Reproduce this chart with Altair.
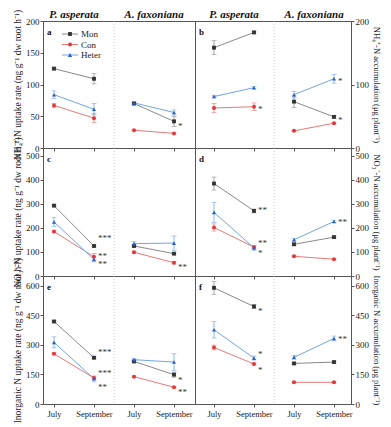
import altair as alt
import pandas as pd

series = ["Mon", "Con", "Heter"]
species = ["P. asperata", "A. faxoniana"]
x_labels = ["July", "September", "July", "September"]
x_pos = [0, 1, 2, 3]

# values per series: [P. asperata July, P. asperata September, A. faxoniana July, A. faxoniana September]
a_mean = {"Mon": [125, 109, 70, 42], "Con": [67, 47, 28, 23], "Heter": [84, 61, 71, 56]}
a_err = {"Mon": [2, 8, 2, 8], "Con": [3, 7, 1, 1], "Heter": [6, 9, 2, 4]}
b_mean = {"Mon": [158, 182, 73, 49], "Con": [63, 65, 27, 39], "Heter": [81, 95, 84, 109]}
b_err = {"Mon": [11, 2, 9, 2], "Con": [7, 6, 1, 1], "Heter": [2, 2, 5, 7]}
c_mean = {"Mon": [293, 125, 125, 93], "Con": [185, 80, 99, 55], "Heter": [225, 69, 135, 137]}
c_err = {"Mon": [4, 4, 4, 4], "Con": [5, 14, 4, 5], "Heter": [18, 10, 8, 30]}
d_mean = {"Mon": [385, 271, 132, 162], "Con": [202, 120, 82, 70], "Heter": [265, 117, 151, 227]}
d_err = {"Mon": [27, 8, 5, 4], "Con": [15, 5, 3, 3], "Heter": [42, 10, 6, 5]}
e_mean = {"Mon": [419, 235, 216, 149], "Con": [255, 132, 139, 85], "Heter": [313, 128, 225, 213]}
e_err = {"Mon": [5, 6, 5, 13], "Con": [5, 6, 4, 4], "Heter": [28, 15, 6, 42]}
f_mean = {"Mon": [590, 495, 206, 213], "Con": [287, 203, 110, 110], "Heter": [377, 233, 237, 333]}
f_err = {"Mon": [33, 10, 5, 5], "Con": [12, 5, 4, 4], "Heter": [42, 10, 10, 12]}

# significance marks: (position, value, label)
a_stars = [(3, 40, "*")]
b_stars = [(1, 66, "*"), (3, 110, "*"), (3, 49, "*")]
c_stars = [(1, 172, "***"), (1, 96, "**"), (1, 62, "**"), (3, 48, "**")]
d_stars = [(1, 288, "**"), (1, 151, "**"), (1, 110, "*"), (3, 236, "**")]
e_stars = [(1, 281, "***"), (1, 172, "***"), (1, 101, "**"), (3, 139, "*"), (3, 76, "**")]
f_stars = [(1, 490, "*"), (1, 270, "*"), (1, 186, "*"), (3, 346, "**")]

y_titles_left = [
    "NH\u2084\u207a-N uptake rate (ng g\u207b\u00b9 dw root h\u207b\u00b9)",
    "NO\u2083\u207b-N uptake rate (ng g\u207b\u00b9 dw root h\u207b\u00b9)",
    "Inorganic N uptake rate (ng g\u207b\u00b9 dw root h\u207b\u00b9)",
]
y_titles_right = [
    "NH\u2084\u207a-N accumulation (\u03bcg plant\u207b\u00b9)",
    "NO\u2083\u207b-N accumulation (\u03bcg plant\u207b\u00b9)",
    "Inorganic N accumulation (\u03bcg plant\u207b\u00b9)",
]
left_ticks = [[0, 50, 100, 150, 200], [0, 100, 200, 300, 400, 500], [0, 150, 300, 450, 600]]
right_ticks = [[0, 100, 200], [0, 100, 200, 300, 400, 500], [0, 150, 300, 450, 600]]
y_max = [200, 533, 650]

line_colors = ["#8a8a8a", "#e77a7a", "#72a7df"]
point_colors = ["#333333", "#e03a3c", "#2b62c8"]
shapes = ["square", "circle", "triangle-up"]
FONT = "Liberation Serif"
row_heights = [127, 128, 128]
label_expr = "[" + ",".join(f"'{l}'" for l in x_labels) + "][datum.value]"


def make_df(mean, err):
    rows = []
    for s in series:
        for i, p in enumerate(x_pos):
            m, e = mean[s][i], err[s][i]
            rows.append(dict(series=s, pos=p, grp=f"{s}-{p // 2}", mean=m, lo=m - e, hi=m + e))
    return pd.DataFrame(rows)


def panel(letter, mean, err, stars, row, side):
    df = make_df(mean, err)
    xdom = [-0.275, 3.525] if side == "left" else [-0.475, 3.425]
    width = 152 if side == "left" else 156
    ytitle = y_titles_left[row] if side == "left" else y_titles_right[row]
    yticks = left_ticks[row] if side == "left" else right_ticks[row]

    if row == 2:
        xaxis = alt.Axis(values=x_pos, labelExpr=label_expr, title=None, grid=False, domain=False,
                         tickSize=3, labelFontSize=8.5, labelPadding=2, tickColor="#555")
    else:
        xaxis = alt.Axis(values=x_pos, labels=False, title=None, grid=False, domain=False,
                         tickSize=3, tickColor="#555")
    yaxis = alt.Axis(orient=side, values=yticks, title=ytitle, grid=False, domain=False,
                     tickSize=3, labelPadding=1, titlePadding=3, labelFlush=False,
                     labelFontSize=9, titleFontSize=9.5 if side == "left" else 8.5,
                     tickColor="#555")
    xs = alt.Scale(domain=xdom, nice=False, zero=False)
    ys = alt.Scale(domain=[0, y_max[row]], nice=False)

    def X(f="pos"):
        return alt.X(f"{f}:Q", scale=xs, axis=xaxis)

    def Y(f="mean"):
        return alt.Y(f"{f}:Q", scale=ys, axis=yaxis)

    stroke = alt.Stroke("series:N", scale=alt.Scale(domain=series, range=line_colors), legend=None)
    capcol = alt.Color("series:N", scale=alt.Scale(domain=series, range=line_colors), legend=None)
    fill = alt.Fill("series:N", scale=alt.Scale(domain=series, range=point_colors), legend=None)
    shape = alt.Shape("series:N", scale=alt.Scale(domain=series, range=shapes), legend=None)

    base = alt.Chart(df)
    divider = alt.Chart(pd.DataFrame({"pos": [1.5]})).mark_rule(
        strokeDash=[1, 2], color="#b5b5b5", strokeWidth=0.8).encode(x=X())
    lines = base.mark_line(strokeWidth=1).encode(x=X(), y=Y(), stroke=stroke, detail="grp:N")
    bars = base.mark_rule(strokeWidth=0.8).encode(x=X(), y=Y("lo"), y2="hi:Q", stroke=stroke)
    caps_df = pd.concat([df.assign(mean=df["lo"]), df.assign(mean=df["hi"])])
    caps = alt.Chart(caps_df).mark_tick(orient="horizontal", size=5, thickness=0.8).encode(
        x=X(), y=Y(), color=capcol)
    sizes = alt.Size("series:N", scale=alt.Scale(domain=series, range=[15, 17, 19]), legend=None)
    pts = base.mark_point(filled=True, opacity=1, strokeWidth=0).encode(
        x=X(), y=Y(), fill=fill, shape=shape, size=sizes)
    star_df = pd.DataFrame({"pos": [s[0] + 0.1 for s in stars], "mean": [s[1] for s in stars],
                            "label": [s[2] for s in stars]})
    star_txt = alt.Chart(star_df).mark_text(align="left", baseline="middle", fontSize=9, dy=3,
                                            color="#333", font=FONT).encode(x=X(), y=Y(), text="label:N")
    lab = alt.Chart(pd.DataFrame({"t": [letter]})).mark_text(
        align="left", baseline="middle", fontSize=9, fontWeight="bold", font=FONT, color="#111"
    ).encode(x=alt.value(4), y=alt.value(11), text="t:N")

    layers = [divider, lines, bars, caps, pts, star_txt, lab]

    if row == 0:
        sp_df = pd.DataFrame({"pos": [i * 2 + 0.5 for i in range(len(species))], "species": species})
        sp = alt.Chart(sp_df).mark_text(baseline="bottom", fontSize=11, fontWeight="bold",
                                        fontStyle="italic", font=FONT, color="#111", dy=-1).encode(
            x=X(), y=alt.value(0), text="species:N")
        layers.append(sp)
        if side == "left":
            for i, s in enumerate(series):
                one = alt.Chart(pd.DataFrame({"series": [s]}))
                yy = 13 + 10.5 * i
                layers.append(one.mark_rule(strokeWidth=1, color=line_colors[i]).encode(
                    x=alt.value(19), x2=alt.value(35), y=alt.value(yy)))
                layers.append(one.mark_point(filled=True, opacity=1, strokeWidth=0, color=point_colors[i],
                                             shape=shapes[i], size=[15, 17, 19][i]).encode(
                    x=alt.value(27), y=alt.value(yy)))
                layers.append(one.mark_text(align="left", baseline="middle", fontSize=9, font=FONT,
                                            color="#222").encode(
                    x=alt.value(38), y=alt.value(yy), text="series:N"))

    return alt.layer(*layers).properties(width=width, height=row_heights[row])


chart = alt.concat(
    panel("a", a_mean, a_err, a_stars, 0, "left"),
    panel("b", b_mean, b_err, b_stars, 0, "right"),
    panel("c", c_mean, c_err, c_stars, 1, "left"),
    panel("d", d_mean, d_err, d_stars, 1, "right"),
    panel("e", e_mean, e_err, e_stars, 2, "left"),
    panel("f", f_mean, f_err, f_stars, 2, "right"),
    columns=2, spacing=0, bounds="flush",
).properties(
    padding={"left": 3, "top": 0, "right": 0, "bottom": 0}
).configure(
    font=FONT, background="white"
).configure_view(
    stroke="#555", strokeWidth=1
).configure_axis(
    labelFont=FONT, titleFont=FONT, labelColor="#222", titleColor="#222", titleFontWeight="normal"
)

chart.save("out.html", embed_options={"renderer": "svg", "actions": False})
